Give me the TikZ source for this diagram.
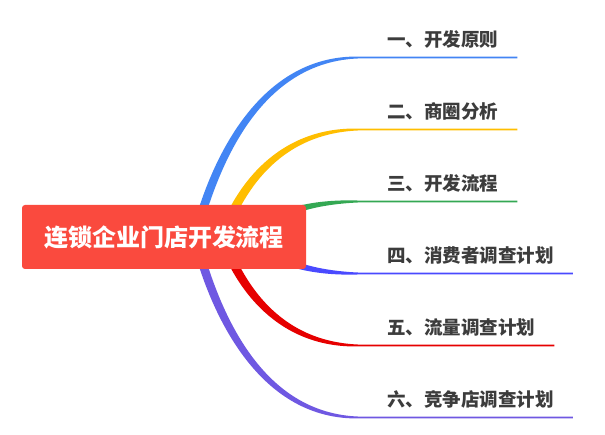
\documentclass[tikz,border=0pt]{standalone}
\usepackage{fontspec}
\setmainfont{Noto Sans CJK SC}
\usetikzlibrary{calc,positioning}
\pgfdeclarelayer{background}
\pgfsetlayers{background,main}

\definecolor{rootred}{HTML}{FA4A3E}
\definecolor{txtgray}{HTML}{3C3C3C}
\definecolor{brblue}{HTML}{4285F4}
\definecolor{bryellow}{HTML}{FFBE00}
\definecolor{brgreen}{HTML}{34A853}
\definecolor{brindigo}{HTML}{4A4AFF}
\definecolor{brred}{HTML}{E60000}
\definecolor{brpurple}{HTML}{6F58E2}

% tapered branch with its underline: colour, start, bend end, line end, side (1 = up, -1 = down)
\newcommand{\branch}[5]{%
  \fill[fill=#1] let \p1=(#2), \p2=(#3), \p3=(#4), \n1={\x2-\x1}, \n2={\y2-\y1} in
    ({\x1-3.5pt}, {\y1+#5*3.5pt})
      .. controls ({\x1-3.5pt+0.12*\n1}, {\y1+#5*3.5pt+0.43*\n2})
      and ({\x1+0.4*\n1}, {\y2+#5*3.5pt}) .. ({\x2}, {\y2+#5*0.9pt})
    -- ({\x3}, {\y2+#5*0.9pt}) -- ({\x3}, {\y2-#5*0.9pt})
    -- ({\x2}, {\y2-#5*0.9pt})
      .. controls ({\x1+0.4*\n1}, {\y2-#5*3.5pt})
      and ({\x1+3.5pt+0.12*\n1}, {\y1-#5*3.5pt+0.43*\n2}) .. ({\x1+3.5pt}, {\y1-#5*3.5pt})
    -- cycle;
}

\begin{document}
\begin{tikzpicture}[
  x=1pt, y=-1pt,
  topic/.style={fill=rootred, rounded corners=3pt, text=white,
    font=\fontsize{24}{28}\selectfont\bfseries,
    minimum width=284pt, minimum height=64pt, inner sep=0pt},
  sub/.style={anchor=west, inner sep=0pt, text=txtgray,
    font=\fontsize{18.5}{22}\selectfont\bfseries}
]
  \useasboundingbox (0,0) rectangle (605,435);

  \node[topic] (root) at (164,237) {连锁企业门店开发流程};

  \node[sub] (l1) at (387,39) {一、开发原则};
  \node[sub] (l2) at (387,111) {二、商圈分析};
  \node[sub] (l3) at (387,183) {三、开发流程};
  \node[sub] (l4) at (387,255) {四、消费者调查计划};
  \node[sub] (l5) at (387,327) {五、流量调查计划};
  \node[sub] (l6) at (387,399) {六、竞争店调查计划};

  \coordinate (s1) at ([xshift=31pt]root.center);
  \coordinate (s2) at ([xshift=58pt]root.center);
  \coordinate (s3) at ([xshift=86pt]root.center);
  \coordinate (s4) at ([xshift=86pt]root.center);
  \coordinate (s5) at ([xshift=58pt]root.center);
  \coordinate (s6) at ([xshift=31pt]root.center);

  \coordinate (e1) at ([xshift=-27pt, yshift=-18.5pt]l1.west);
  \coordinate (e2) at ([xshift=-27pt, yshift=-18.5pt]l2.west);
  \coordinate (e3) at ([xshift=-27pt, yshift=-18.5pt]l3.west);
  \coordinate (e4) at ([xshift=-27pt, yshift=-18.5pt]l4.west);
  \coordinate (e5) at ([xshift=-27pt, yshift=-18.5pt]l5.west);
  \coordinate (e6) at ([xshift=-27pt, yshift=-18.5pt]l6.west);

  \coordinate (f1) at ([xshift=19pt]l1.east);
  \coordinate (f2) at ([xshift=19pt]l2.east);
  \coordinate (f3) at ([xshift=19pt]l3.east);
  \coordinate (f4) at ([xshift=19pt]l4.east);
  \coordinate (f5) at ([xshift=19pt]l5.east);
  \coordinate (f6) at ([xshift=19pt]l6.east);

  \begin{pgfonlayer}{background}
    \fill[white] (0,0) rectangle (605,435);
    \branch{brblue}{s1}{e1}{f1}{1}
    \branch{bryellow}{s2}{e2}{f2}{1}
    \branch{brgreen}{s3}{e3}{f3}{1}
    \branch{brindigo}{s4}{e4}{f4}{-1}
    \branch{brred}{s5}{e5}{f5}{-1}
    \branch{brpurple}{s6}{e6}{f6}{-1}
  \end{pgfonlayer}
\end{tikzpicture}
\end{document}
